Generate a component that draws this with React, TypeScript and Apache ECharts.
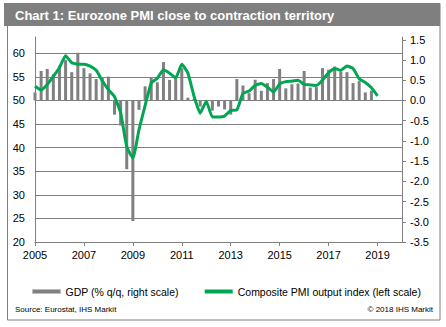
import React, { useEffect, useRef } from 'react';
import * as echarts from 'echarts';

// Quarterly GDP (% q/q), 2005Q1 .. 2018Q4 (right scale)
const gdpFirstYear = 2005;
const gdpValues = [
  0.2, 0.73, 0.78, 0.65,
  0.85, 1.0, 0.7, 1.18,
  0.8, 0.67, 0.53, 0.57,
  0.59, -0.35, -0.62, -1.7,
  -2.98, -0.23, 0.35, 0.57,
  0.45, 0.95, 0.51, 0.55,
  0.8, 0.07, 0.04, -0.15,
  -0.05, -0.25, -0.15, -0.22,
  -0.35, 0.53, 0.37, 0.18,
  0.51, 0.24, 0.43, 0.53,
  0.78, 0.3, 0.4, 0.42,
  0.73, 0.32, 0.33, 0.8,
  0.76, 0.84, 0.72, 0.7,
  0.43, 0.48, 0.2, 0.24,
];

// Composite PMI output index (left scale), quarterly points 2005.0 .. 2019.0
const pmiFirstYear = 2005;
const pmiValues = [
  53.0, 52.2, 53.4, 55.1,
  57.0, 59.5, 58.0, 57.7,
  57.7, 57.3, 56.4, 54.2,
  52.3, 50.8, 47.4, 40.2,
  37.8, 43.8, 48.9, 53.7,
  54.7, 56.5, 55.8, 54.8,
  57.7, 55.8, 50.9, 47.3,
  49.8, 46.5, 46.5, 46.7,
  47.9, 48.0, 51.5, 52.0,
  53.2, 53.6, 52.8, 51.8,
  53.5, 54.0, 54.1, 54.3,
  53.4, 53.3, 53.2, 54.3,
  55.9, 56.8, 56.4, 57.3,
  56.8, 54.6, 53.8, 52.7,
  51.0,
];

const leftTicks = [20, 25, 30, 35, 40, 45, 50, 55, 60];
const rightTicks = [-3.5, -3.0, -2.5, -2.0, -1.5, -1.0, -0.5, 0.0, 0.5, 1.0, 1.5];
const xTicks = [2005, 2007, 2009, 2011, 2013, 2015, 2017, 2019];

const titleText = 'Chart 1: Eurozone PMI close to contraction territory';
const gdpName = 'GDP (% q/q, right scale)';
const pmiName = 'Composite PMI output index (left scale)';
const sourceText = 'Source: Eurostat, IHS Markit';
const copyrightText = '\u00A9 2018 IHS Markit';

const FONT = 'Arial, "Liberation Sans", sans-serif';
const GRAY = '#808080';
const GREEN = '#00A651';

export default function App() {
  const ref = useRef<HTMLDivElement>(null);

  useEffect(() => {
    if (!ref.current) return;
    const chart = echarts.init(ref.current, undefined, { renderer: 'svg' });

    const gdpData = gdpValues.map((v, i) => [gdpFirstYear + i / 4, v]);
    const pmiData = pmiValues.map((v, i) => [pmiFirstYear + i / 4, v]);

    chart.setOption({
      animation: false,
      backgroundColor: '#fff',
      textStyle: { fontFamily: FONT },
      grid: { left: 35, right: 44, top: 37, bottom: 85, containLabel: false },
      legend: {
        left: 27,
        top: 281,
        itemGap: 26,
        itemWidth: 28,
        itemHeight: 4,
        textStyle: { fontSize: 10.5, color: '#000', fontFamily: FONT },
        data: [
          { name: gdpName, icon: 'rect', itemStyle: { color: GRAY, borderColor: '#bdbdbd', borderWidth: 1 } },
          { name: pmiName, icon: 'rect', itemStyle: { color: GREEN, borderWidth: 0 } },
        ],
      },
      xAxis: {
        type: 'value',
        min: 2005,
        max: 2020,
        interval: 2,
        axisLine: { onZero: false, lineStyle: { color: GRAY, width: 1 } },
        axisTick: { show: true, length: 4, lineStyle: { color: GRAY }, customValues: xTicks },
        axisLabel: {
          customValues: xTicks,
          formatter: (v: number) => String(v),
          fontSize: 11,
          color: '#000',
          margin: 7,
          fontFamily: FONT,
        },
        splitLine: { show: false },
      },
      yAxis: [
        {
          type: 'value',
          position: 'left',
          min: 20,
          max: 63.46,
          interval: 5,
          axisLine: { show: true, lineStyle: { color: GRAY, width: 1 } },
          axisTick: { show: false },
          axisLabel: {
            customValues: leftTicks,
            formatter: (v: number) => String(v),
            fontSize: 11,
            color: '#000',
            margin: 10,
            fontFamily: FONT,
          },
          splitLine: { show: true, showMaxLine: false, showMinLine: false, lineStyle: { color: GRAY, width: 1 } },
        },
        {
          type: 'value',
          position: 'right',
          min: -3.5,
          max: 1.57,
          interval: 0.5,
          axisLine: { show: true, lineStyle: { color: GRAY, width: 1 } },
          axisTick: { show: true, inside: false, length: 4, lineStyle: { color: GRAY }, customValues: rightTicks },
          axisLabel: {
            customValues: rightTicks,
            formatter: (v: number) => v.toFixed(1),
            fontSize: 11,
            color: '#000',
            margin: 8,
            fontFamily: FONT,
          },
          splitLine: { show: false },
        },
      ],
      series: [
        {
          name: gdpName,
          type: 'bar',
          yAxisIndex: 1,
          data: gdpData,
          barWidth: 3,
          itemStyle: { color: GRAY },
          z: 2,
        },
        {
          name: pmiName,
          type: 'line',
          yAxisIndex: 0,
          data: pmiData,
          showSymbol: false,
          symbol: 'none',
          smooth: 0.15,
          lineStyle: { color: GREEN, width: 3 },
          itemStyle: { color: GREEN },
          z: 3,
        },
      ],
      graphic: [
        {
          type: 'rect',
          shape: { x: 7.5, y: 3.5, width: 432.5, height: 316.5 },
          style: { fill: 'none', stroke: GRAY, lineWidth: 1 },
          silent: true,
        },
        {
          type: 'rect',
          shape: { x: 4, y: 3, width: 436, height: 23 },
          style: { fill: '#7F7F7F' },
          silent: true,
        },
        {
          type: 'text',
          x: 15,
          y: 15,
          style: {
            text: titleText,
            fill: '#fff',
            font: 'bold 13px Arial, "Liberation Sans", sans-serif',
            verticalAlign: 'middle',
          },
          silent: true,
        },
        {
          type: 'text',
          x: 15,
          y: 309,
          style: {
            text: sourceText,
            fill: '#000',
            font: '8px Arial, "Liberation Sans", sans-serif',
            verticalAlign: 'middle',
          },
          silent: true,
        },
        {
          type: 'text',
          x: 433,
          y: 309,
          style: {
            text: copyrightText,
            fill: '#000',
            font: '8px Arial, "Liberation Sans", sans-serif',
            align: 'right',
            verticalAlign: 'middle',
          },
          silent: true,
        },
      ],
    });

    return () => chart.dispose();
  }, []);

  return <div ref={ref} style={{ width: 446, height: 327, position: 'absolute', left: 0, top: 0 }} />;
}
